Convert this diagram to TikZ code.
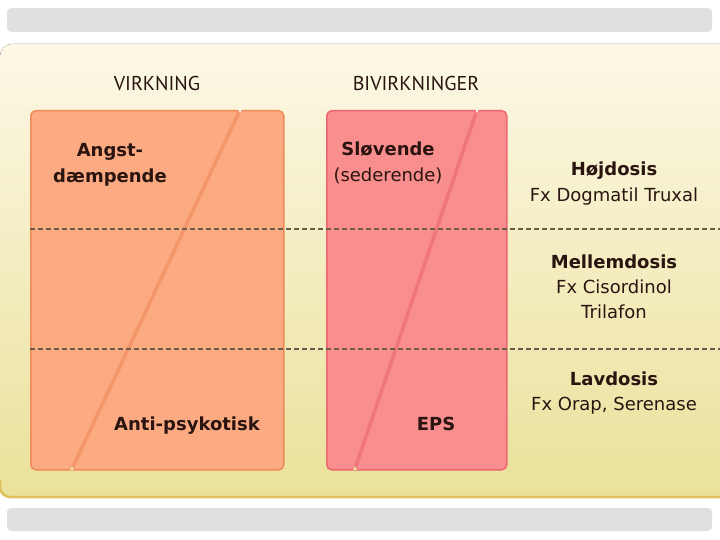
\documentclass[tikz,border=0pt]{standalone}
\usepackage{fontspec}
\setmainfont{DejaVu Sans}
\newfontfamily\headfont{PT Sans}
\usetikzlibrary{positioning}

\definecolor{panelTop}{HTML}{FCF8E6}
\definecolor{panelBot}{HTML}{EAE19A}
\definecolor{panelEdge}{HTML}{E0C05A}
\definecolor{barGray}{HTML}{E0E0E0}
\definecolor{effFill}{HTML}{FBAA82}
\definecolor{effEdge}{HTML}{F08A58}
\definecolor{sideFill}{HTML}{F98E8E}
\definecolor{sideEdge}{HTML}{EC6570}
\definecolor{txt}{HTML}{2A1410}
\definecolor{dashCol}{HTML}{6A5A48}

\begin{document}
\begin{tikzpicture}[x=1pt,y=-1pt,
    colhead/.style={font=\headfont\fontsize{20}{24}\selectfont, text=txt, inner sep=0pt},
    lbl/.style={font=\bfseries\fontsize{18}{22}\selectfont, text=txt, inner sep=0pt, text height=14pt, text depth=4pt},
    drug/.style={font=\fontsize{18}{22}\selectfont, text=txt, inner sep=0pt, text height=14pt, text depth=4pt},
    bigbox/.style={line width=1.5pt, rounded corners=5pt, inner sep=0pt, minimum height=359pt, anchor=north west},
    split/.style={line width=4pt, opacity=0.45},
    level/.style={dashCol, line width=1.2pt, dash pattern=on 5pt off 3pt},
    node distance=7pt]
  \useasboundingbox (0,0) rectangle (720,540);

  % grey bars and panel
  \fill[barGray, rounded corners=4pt] (7,8) rectangle (712,32);
  \fill[barGray, rounded corners=4pt] (7,508) rectangle (712,531);
  \fill[top color=panelTop, bottom color=panelBot, rounded corners=12pt] (0,44) rectangle (740,497);
  \draw[panelEdge, line width=2.5pt, rounded corners=10pt] (0,480) -- (0,497) -- (740,497);

  % the two columns
  \node[bigbox, draw=effEdge, fill=effFill, minimum width=253pt] (virk) at (30,110) {};
  \node[bigbox, draw=sideEdge, fill=sideFill, minimum width=180pt] (bivirk) at (326,110) {};
  \coordinate (vtop) at (240,110);
  \coordinate (vbot) at (72,469);
  \coordinate (btop) at (477,110);
  \coordinate (bbot) at (355,469);
  \draw[split, effEdge] (vtop) -- (vbot);
  \draw[split, sideEdge] (btop) -- (bbot);
  \draw[effEdge, line width=1pt, opacity=0.5] (vtop) -- (vbot);
  \draw[sideEdge, line width=1pt, opacity=0.5] (btop) -- (bbot);
  \fill[panelTop] (vtop) ++(-2,-1) -- ++(4,0) -- ++(-2,4) -- cycle;
  \fill[panelBot] (vbot) ++(-2,1) -- ++(4,0) -- ++(-2,-4) -- cycle;
  \fill[panelTop] (btop) ++(-2,-1) -- ++(4,0) -- ++(-2,4) -- cycle;
  \fill[panelBot] (bbot) ++(-2,1) -- ++(4,0) -- ++(-2,-4) -- cycle;

  % dose levels
  \coordinate (hiA) at (30,229);
  \coordinate (hiB) at (720,229);
  \coordinate (loA) at (30,349);
  \coordinate (loB) at (720,349);
  \draw[level] (hiA) -- (hiB);
  \draw[level] (loA) -- (loB);

  % headings
  \node[colhead] (hvirk) at (157,84) {VIRKNING};
  \node[colhead] (hbivirk) at (416,84) {BIVIRKNINGER};

  % effects
  \node[lbl] (angst) at (110,152) {Angst-};
  \node[lbl, below=of angst] (daemp) {dæmpende};
  \node[lbl] (antips) at (187,425) {Anti-psykotisk};
  \node[lbl] (slov) at (388,151) {Sløvende};
  \node[drug, below=of slov] (seder) {(sederende)};
  \node[lbl] (eps) at (436,425) {EPS};

  % doses
  \node[lbl] (hoj) at (614,171) {Højdosis};
  \node[drug, below=of hoj] (hojfx) {Fx Dogmatil Truxal};
  \node[lbl] (mellem) at (614,263) {Mellemdosis};
  \node[drug, below=of mellem] (mellemfx) {Fx Cisordinol};
  \node[drug, below=of mellemfx] (trila) {Trilafon};
  \node[lbl] (lav) at (614,380) {Lavdosis};
  \node[drug, below=of lav] (lavfx) {Fx Orap, Serenase};
\end{tikzpicture}
\end{document}
